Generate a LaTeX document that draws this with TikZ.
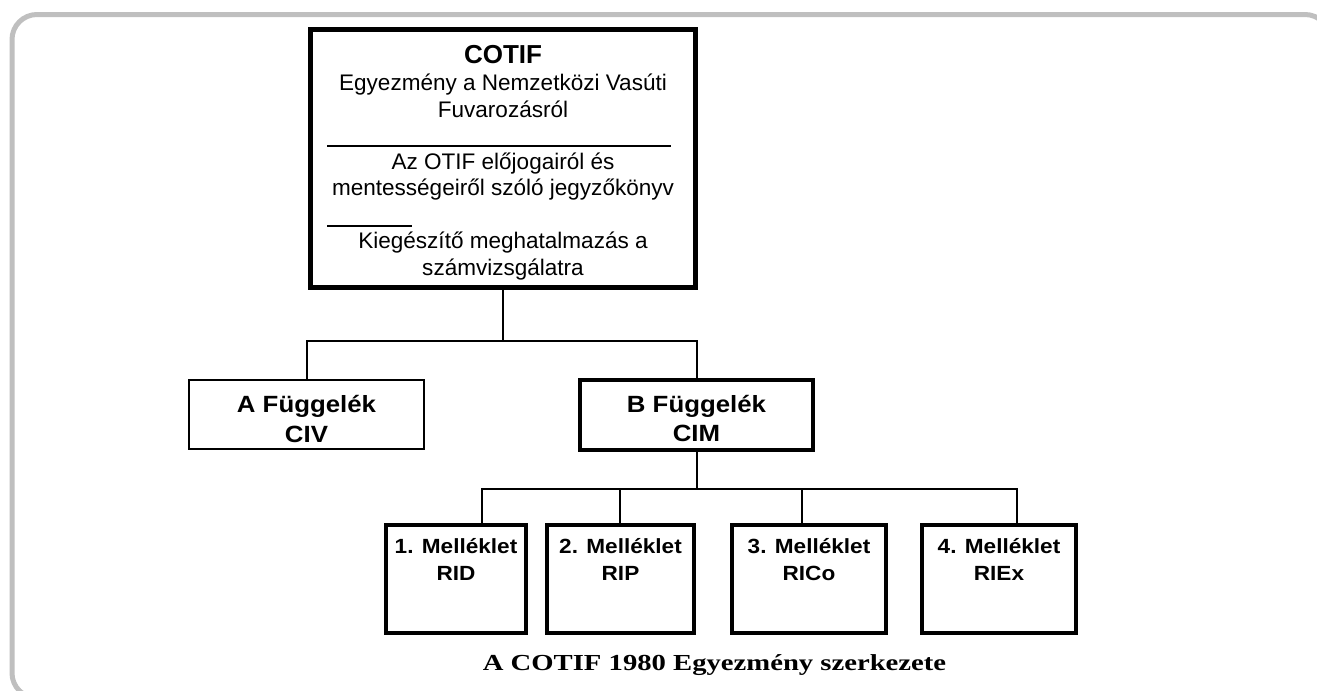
\documentclass[tikz,border=0pt]{standalone}
\usepackage{fontspec}
\setmainfont{Liberation Sans}
\newfontfamily\bwide[FakeStretch=1.1]{Liberation Sans}
\newfontfamily\capfont[FakeStretch=1.25]{Liberation Serif}
\begin{document}
\begin{tikzpicture}[x=0.75pt,y=-0.75pt,
  box/.style={draw=black,fill=white,inner sep=0pt,rectangle},
  conn/.style={line width=1.5pt,line cap=rect},
  bus/.style={line width=1.9pt},
  txt/.style={anchor=base,inner sep=0pt,font=\fontsize{16.9pt}{20pt}\selectfont},
  ttl/.style={anchor=base,inner sep=0pt,font=\fontsize{19.5pt}{23pt}\selectfont\bfseries},
  fg/.style={anchor=base,inner sep=0pt,font=\fontsize{17.6pt}{21pt}\selectfont\bwide\bfseries},
  ml/.style={anchor=base,inner sep=0pt,font=\fontsize{15.4pt}{18pt}\selectfont\bwide\bfseries},
  mbox/.style={box,line width=2.6pt,minimum height=81pt}
]
\useasboundingbox (0,0) rectangle (1317,690);
\draw[black!25,line width=3.75pt,rounded corners=18.75pt] (12,14.5) rectangle (1330,698);

% top box
\node[box,line width=3.75pt,minimum width=288.75pt,minimum height=193.5pt] (cotif) at (503,158.5) {};
\node[ttl] (t0) at (503,63) {COTIF};
\node[txt] (t1) at (503,90) {Egyezmény a Nemzetközi Vasúti};
\node[txt] (t2) at (503,117) {Fuvarozásról};
\coordinate (r1a) at (327,146);
\coordinate (r1b) at (671,146);
\draw[line width=1.3pt] (r1a) -- (r1b);
\node[txt] (t3) at (503,169) {Az OTIF előjogairól és};
\node[txt] (t4) at (503,195) {mentességeiről szóló jegyzőkönyv};
\coordinate (r2a) at (327,226);
\coordinate (r2b) at (412,226);
\draw[line width=1.3pt] (r2a) -- (r2b);
\node[txt] (t5) at (503,248) {Kiegészítő meghatalmazás a};
\node[txt] (t6) at (503,275) {számvizsgálatra};

% appendices
\node[box,line width=1.5pt,minimum width=176.25pt,minimum height=51.75pt] (afg) at (306.5,414.5) {};
\node[fg] (a1) at (306.5,412) {A Függelék};
\node[fg] (a2) at (306.5,442) {CIV};
\node[box,line width=3.4pt,minimum width=174.75pt,minimum height=52.5pt] (bfg) at (696.5,415) {};
\node[fg] (b1) at (696.5,412) {B Függelék};
\node[fg] (b2) at (696.5,441) {CIM};

\coordinate (j1) at (503,341);
\draw[conn] (cotif.south) -- (j1);
\draw[conn] (afg.north) -- (afg.north |- j1) -- (bfg.north |- j1) -- (bfg.north);

% annexes
\node[mbox,minimum width=105pt] (m1) at (456,579) {};
\node[mbox,minimum width=110.25pt] (m2) at (620.5,579) {};
\node[mbox,minimum width=115.5pt] (m3) at (809,579) {};
\node[mbox,minimum width=115.5pt] (m4) at (999,579) {};
\node[ml] (m1a) at (456,553.5) {1. Melléklet};
\node[ml] (m1b) at (456,580.5) {RID};
\node[ml] (m2a) at (620.5,553.5) {2. Melléklet};
\node[ml] (m2b) at (620.5,580.5) {RIP};
\node[ml] (m3a) at (809,553.5) {3. Melléklet};
\node[ml] (m3b) at (809,580.5) {RICo};
\node[ml] (m4a) at (999,553.5) {4. Melléklet};
\node[ml] (m4b) at (999,580.5) {RIEx};

\coordinate (j2) at (697,489);
\coordinate (busL) at (481,489);
\coordinate (busR) at (1018,489);
\coordinate (d1) at (482,489);
\coordinate (d2) at (620,489);
\coordinate (d3) at (802,489);
\coordinate (d4) at (1017,489);
\draw[conn] (bfg.south) -- (bfg.south |- j2);
\draw[bus] (busL) -- (busR);
\draw[conn] (d1) -- (d1 |- m1.north);
\draw[conn] (d2) -- (d2 |- m2.north);
\draw[conn] (d3) -- (d3 |- m3.north);
\draw[conn] (d4) -- (d4 |- m4.north);

\node[anchor=base,inner sep=0pt,font=\fontsize{17.2pt}{20pt}\selectfont\capfont\bfseries] (cap) at (714.5,670) {A COTIF 1980 Egyezmény szerkezete};
\end{tikzpicture}
\end{document}
